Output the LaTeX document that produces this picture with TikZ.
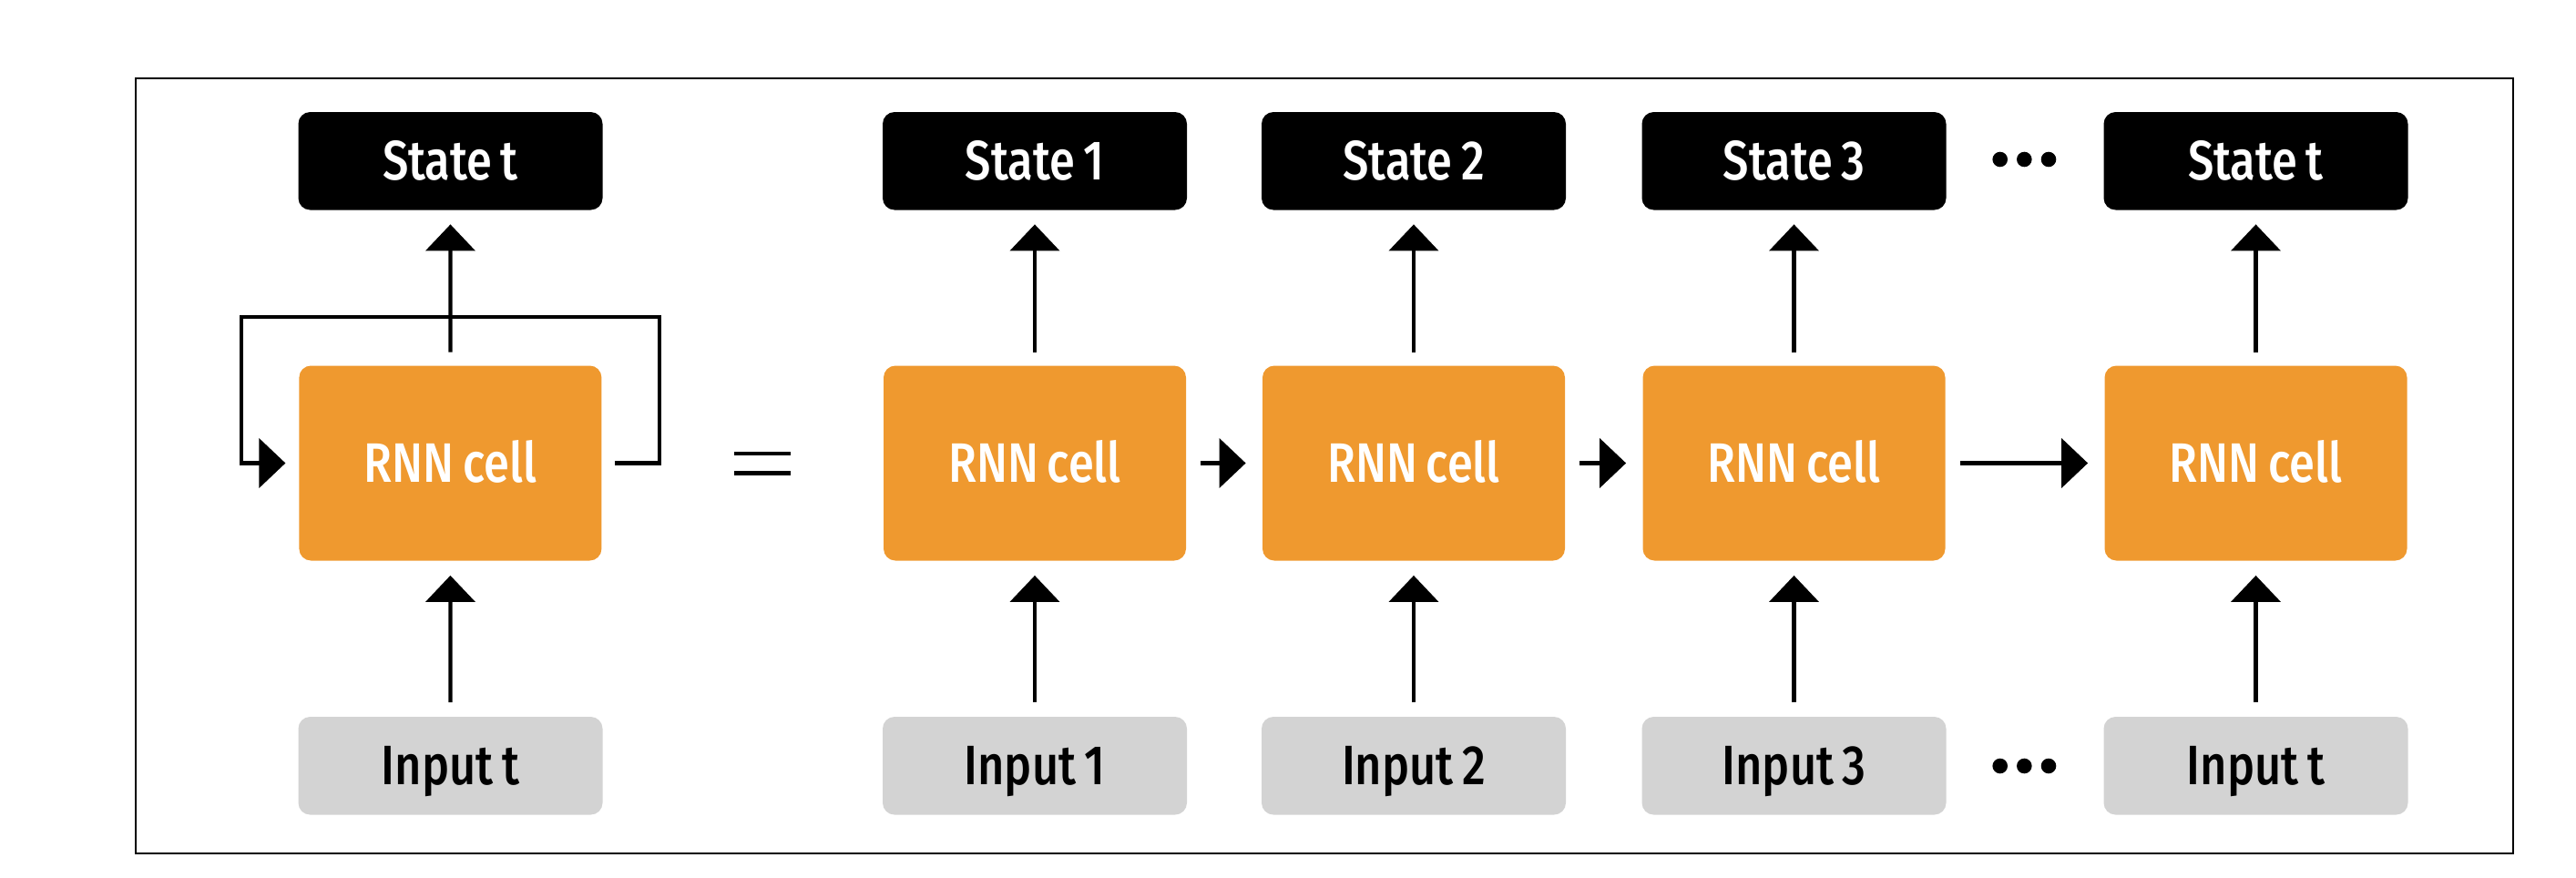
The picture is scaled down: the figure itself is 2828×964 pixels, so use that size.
\documentclass[tikz,border=0pt]{standalone}
\usepackage{fontspec}
\setmainfont{Fira Sans}[UprightFont=* Medium, FakeStretch=0.83, WordSpace=0.75]
\usetikzlibrary{arrows.meta}
\definecolor{cellorange}{RGB}{239,153,47}
\definecolor{inputgrey}{RGB}{211,211,211}
\begin{document}
\begin{tikzpicture}[x=0.5pt,y=-0.5pt,
  base/.style={rounded corners=6.5pt, inner sep=0pt, align=center,
    font=\fontsize{30.5}{30.5}\selectfont, text height=21pt, text depth=0pt},
  statebox/.style={base, fill=black, text=white, minimum width=167pt, minimum height=53.75pt},
  cellbox/.style={base, fill=cellorange, text=white, minimum width=166pt, minimum height=107pt},
  inputbox/.style={base, fill=inputgrey, text=black, minimum width=167pt, minimum height=53.75pt},
  conn/.style={line width=2.1pt, -{Triangle[length=14.5pt, width=27pt]}},
  upconn/.style={conn, shorten <=7.25pt, shorten >=7.75pt},
  inconn/.style={conn, shorten <=7.75pt, shorten >=8pt},
  rightconn/.style={conn, shorten <=8pt, shorten >=9pt},
  dot/.style={fill=black},
]
\useasboundingbox (0,0) rectangle (2828,964);
\draw[line width=1pt] (148.7,85.7) rectangle (2759.3,936.7);

% folded RNN
\node[statebox] (sL) at (494.5,176.75) {State t};
\node[cellbox] (rL) at (494.4,508.5) {RNN cell};
\node[inputbox] (iL) at (494.5,840.75) {Input t};
\draw[upconn] (rL.north) -- (sL.south);
\draw[inconn] (iL.north) -- (rL.south);
\coordinate (lr) at ([xshift=31.5pt]rL.east);
\coordinate (lt) at ([yshift=26.5pt]rL.north);
\coordinate (ll) at ([xshift=-31.5pt]rL.west);
\draw[conn, line join=miter] ([xshift=7pt]rL.east) -- (lr) |- (lt) -| (ll) -- ([xshift=-7.3pt]rL.west);

% equals sign
\draw[line width=2.3pt] (805.8,498) -- (867.6,498);
\draw[line width=2.3pt] (805.8,519.5) -- (867.6,519.5);

% unrolled RNN
\foreach \n/\x/\lab in {1/1136/1, 2/1552/2, 3/1969.5/3, 4/2476.5/t}{
  \node[statebox] (s\n) at (\x,176.75) {State \lab};
  \node[cellbox] (r\n) at (\x,508.5) {RNN cell};
  \node[inputbox] (i\n) at (\x,840.75) {Input \lab};
  \draw[upconn] (r\n.north) -- (s\n.south);
  \draw[inconn] (i\n.north) -- (r\n.south);
}
\draw[rightconn] (r1.east) -- (r2.west);
\draw[rightconn] (r2.east) -- (r3.west);
\draw[rightconn] (r3.east) -- (r4.west);

% ellipses
\foreach \y in {175,841}{
  \fill[dot] (2195.7,\y) circle[radius=4.15pt];
  \fill[dot] (2222.3,\y) circle[radius=4.15pt];
  \fill[dot] (2249,\y) circle[radius=4.15pt];
}
\end{tikzpicture}
\end{document}
